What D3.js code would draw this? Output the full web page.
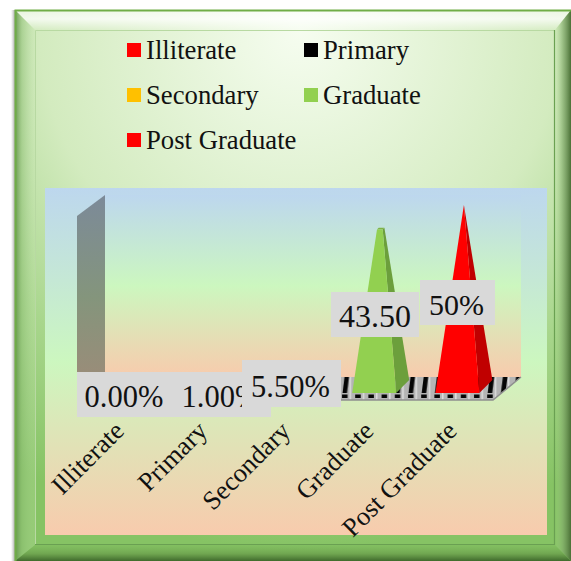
<!DOCTYPE html>
<html>
<head>
<meta charset="utf-8">
<script src="https://cdn.jsdelivr.net/npm/d3@7/dist/d3.min.js"></script>
<style>
html,body{margin:0;padding:0;background:#fff}
svg{display:block}
text{font-family:"Liberation Serif","Times New Roman",serif;fill:#111}
</style>
</head>
<body>
<svg id="chart" width="571" height="561"></svg>
<script>
const categories = ["Illiterate", "Primary", "Secondary", "Graduate", "Post Graduate"];
const values = [0, 1, 5.5, 43.5, 50];
const valueLabels = ["0.00%", "1.00%", "5.50%", "43.50", "50%"];
const frontColors = ["#ff0000", "#000000", "#ffc000", "#92d050", "#ff0000"];
const sideColors = ["#c00000", "#000000", "#c89600", "#6c9f3c", "#c00000"];
const topColors = ["#ff5050", "#333333", "#ffd24d", "#7fb246", "#ff5050"];

const svg = d3.select("#chart");
const defs = svg.append("defs");

function linear(id, x1, y1, x2, y2, stops) {
  const g = defs.append("linearGradient").attr("id", id)
    .attr("x1", x1).attr("y1", y1).attr("x2", x2).attr("y2", y2);
  stops.forEach(([o, c, a]) => g.append("stop").attr("offset", o).attr("stop-color", c)
    .attr("stop-opacity", a === undefined ? 1 : a));
}
const pastel = [[0, "#bdd7ee"], [0.5, "#ccf7bf"], [1, "#f8cbad"]];
linear("panelFill", 0, 0, 0, 1, pastel);
linear("wallFill", 0, 0, 0, 1, pastel);
linear("sideWall", 0, 0, 0, 1, [[0, "#7c8a99"], [0.5, "#84957c"], [1, "#a08a78"]]);
linear("bevelTop", 0, 0, 0, 1, [[0, "#ffffff", 0.55], [0.45, "#ffffff", 0.75], [1, "#ffffff", 0.05]]);
linear("bevelLeft", 0, 0, 1, 0, [[0, "#5f8f48", 0.9], [0.35, "#8fbf76", 0.55], [1, "#c4e4ae", 0.25]]);
linear("bevelRight", 0, 0, 1, 0, [[0, "#a5d488", 0.1], [0.5, "#7fa868", 0.7], [1, "#4a7036", 1]]);
linear("bevelBottom", 0, 0, 0, 1, [[0, "#7db95c", 0.4], [0.55, "#6da24e", 0.9], [1, "#3f6a2c", 1]]);
linear("edgeShadow", 0, 0, 1, 0, [[0, "#999999", 0], [1, "#777777", 0.65]]);

const glow = defs.append("radialGradient").attr("id", "frameFill")
  .attr("gradientUnits", "userSpaceOnUse").attr("cx", 300).attr("cy", 30).attr("r", 520);
[[0, "#f6fdf0"], [0.5, "#d3ebbf"], [0.75, "#a8d68c"], [1, "#86c364"]]
  .forEach(([o, c]) => glow.append("stop").attr("offset", o).attr("stop-color", c));

// Hatched chart floor: long bars towards the back, short dashes along the front
const hatch = defs.append("pattern").attr("id", "floorHatch")
  .attr("patternUnits", "userSpaceOnUse").attr("width", 13.2).attr("height", 23)
  .attr("x", 77).attr("y", 377);
hatch.append("rect").attr("width", 13.2).attr("height", 23).attr("fill", "#b4b4b4");
hatch.append("rect").attr("x", 8.5).attr("width", 1.5).attr("height", 23).attr("fill", "#dedede");
hatch.append("path").attr("d", "M3.5 0 L8 0 L6 16 L1.5 16 Z").attr("fill", "#050505");
hatch.append("rect").attr("x", 1).attr("y", 17.5).attr("width", 5.5).attr("height", 3.5).attr("fill", "#050505");

// Picture frame with bevelled edges
const F = {l: 15, r: 571, t: 10, b: 561, il: 35, ir: 555, it: 30, ib: 545};
svg.append("rect").attr("x", F.l - 4).attr("y", F.t).attr("width", 4).attr("height", F.b - F.t)
  .attr("fill", "url(#edgeShadow)");
svg.append("rect").attr("x", F.l).attr("y", F.t).attr("width", F.r - F.l).attr("height", F.b - F.t)
  .attr("fill", "url(#frameFill)");
const poly = pts => pts.map(p => p.join(",")).join(" ");
[
  ["bevelTop", [[F.l, F.t], [F.r, F.t], [F.ir, F.it], [F.il, F.it]]],
  ["bevelLeft", [[F.l, F.t], [F.il, F.it], [F.il, F.ib], [F.l, F.b]]],
  ["bevelRight", [[F.r, F.t], [F.ir, F.it], [F.ir, F.ib], [F.r, F.b]]],
  ["bevelBottom", [[F.l, F.b], [F.il, F.ib], [F.ir, F.ib], [F.r, F.b]]]
].forEach(([fill, pts]) => svg.append("polygon").attr("points", poly(pts)).attr("fill", `url(#${fill})`));
svg.append("path").attr("d", `M${F.l + 0.5} ${F.b} V${F.t + 0.5} H${F.r}`)
  .attr("fill", "none").attr("stroke", "#70ad47").attr("stroke-width", 2);
svg.append("path").attr("d", `M${F.il + .5} ${F.ib} V${F.it + .5} H${F.ir}`)
  .attr("fill", "none").attr("stroke", "#b8d9a2").attr("stroke-width", 1);
svg.append("path").attr("d", `M${F.il} ${F.ib - .5} H${F.ir - .5} V${F.it}`)
  .attr("fill", "none").attr("stroke", "#6aa052").attr("stroke-width", 1.2);

// Legend, laid out in two columns
const legendCol = d3.scaleOrdinal().domain([0, 1]).range([127, 304]);
const legendRow = d3.scaleLinear().domain([0, 1]).range([43, 88]);
const legend = svg.append("g").selectAll("g").data(categories).join("g")
  .attr("transform", (d, i) => `translate(${legendCol(i % 2)},${legendRow(Math.floor(i / 2))})`);
legend.append("rect").attr("width", 14).attr("height", 14).attr("fill", (d, i) => frontColors[i]);
legend.append("text").attr("x", 19).attr("y", 15.5).attr("font-size", 26.7).text(d => d);

// Plot panel and the three-dimensional walls
svg.append("rect").attr("x", 45).attr("y", 188).attr("width", 502).attr("height", 347)
  .attr("fill", "url(#panelFill)");
svg.append("rect").attr("x", 105).attr("y", 195).attr("width", 416).attr("height", 182)
  .attr("fill", "url(#wallFill)");
svg.append("polygon").attr("points", poly([[77, 216], [105, 195], [105, 373], [77, 400]]))
  .attr("fill", "url(#sideWall)");
svg.append("polygon").attr("points", poly([[77, 400], [493, 400], [521, 377], [105, 377]]))
  .attr("fill", "url(#floorHatch)");
svg.append("path").attr("d", "M77 400 H493 L521 377").attr("fill", "none")
  .attr("stroke", "#8f8f8f").attr("stroke-width", 1.5);

// Scales: the pyramid's full height stands for the largest value,
// and smaller values cut it off at their own height
const x = d3.scaleBand().domain(categories).range([77, 493]);
const height = d3.scaleLinear().domain([0, d3.max(values)]).range([0, 1]);
const apexY = 205, halfBase = 22, depth = 13, baseY = 393;

const lerp = (a, b, t) => [a[0] + (b[0] - a[0]) * t, a[1] + (b[1] - a[1]) * t];
function pyramid(d, i) {
  const c = x(d) + x.bandwidth() / 2 + 6;
  const apex = [c + depth / 2, apexY];
  const t = height(values[i]);
  const fl = [c - halfBase, baseY], fr = [c + halfBase, baseY], br = [fr[0] + depth, baseY - depth];
  const bl = [fl[0] + depth, baseY - depth];
  return {
    front: [fl, fr, lerp(fr, apex, t), lerp(fl, apex, t)],
    side: [fr, br, lerp(br, apex, t), lerp(fr, apex, t)],
    top: [lerp(fl, apex, t), lerp(fr, apex, t), lerp(br, apex, t), lerp(bl, apex, t)]
  };
}
const pyramids = svg.append("g").selectAll("g").data(categories).join("g");
pyramids.append("polygon").attr("points", (d, i) => poly(pyramid(d, i).top)).attr("fill", (d, i) => topColors[i]);
pyramids.append("polygon").attr("points", (d, i) => poly(pyramid(d, i).side)).attr("fill", (d, i) => sideColors[i]);
pyramids.append("polygon").attr("points", (d, i) => poly(pyramid(d, i).front)).attr("fill", (d, i) => frontColors[i]);

// Value labels on grey boxes; later boxes paint over earlier ones
const labelBoxes = [
  {left: 77, top: 372, width: 98, height: 45, size: 30.5, textX: 124, baseline: 407},
  {left: 173, top: 372, width: 98, height: 45, size: 30.5, textX: 221, baseline: 407},
  {left: 242, top: 360, width: 99, height: 47, size: 30.5, textX: 290.5, baseline: 397},
  {left: 331, top: 292, width: 88, height: 45, size: 32, textX: 375, baseline: 327},
  {left: 420, top: 280, width: 75, height: 45, size: 30, textX: 456.5, baseline: 315}
];
const labels = svg.append("g").selectAll("g").data(valueLabels).join("g");
labels.append("rect")
  .attr("x", (d, i) => labelBoxes[i].left).attr("y", (d, i) => labelBoxes[i].top)
  .attr("width", (d, i) => labelBoxes[i].width).attr("height", (d, i) => labelBoxes[i].height)
  .attr("fill", "#d9d9d9");
labels.append("text")
  .attr("x", (d, i) => labelBoxes[i].textX)
  .attr("y", (d, i) => labelBoxes[i].baseline)
  .attr("text-anchor", "middle")
  .attr("font-size", (d, i) => labelBoxes[i].size)
  .text(d => d);

// Category axis with slanted labels
const axis = svg.append("g").attr("transform", "translate(0,400)")
  .call(d3.axisBottom(x).tickSize(0).tickPadding(0));
axis.select(".domain").remove();
axis.selectAll("text")
  .attr("font-size", 26.5)
  .attr("font-family", '"Liberation Serif","Times New Roman",serif')
  .attr("fill", "#111")
  .attr("text-anchor", "end")
  .attr("dy", 0)
  .attr("transform", "translate(7,32.5) rotate(-45)");
</script>
</body>
</html>
